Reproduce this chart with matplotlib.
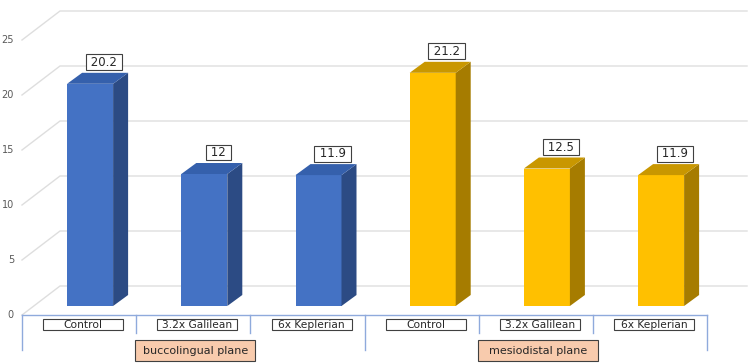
import matplotlib
matplotlib.use('Agg')
import matplotlib.pyplot as plt
from matplotlib.patches import Polygon, Rectangle

# --- Dados ---
categorias = ['Control', '3.2x Galilean', '6x Keplerian',
              'Control', '3.2x Galilean', '6x Keplerian']
valores = [20.2, 12, 11.9, 21.2, 12.5, 11.9]
grupos = ['buccolingual plane', 'mesiodistal plane']
ticks_y = [0, 5, 10, 15, 20, 25]

# --- Cores ---
COR_FRENTE = ['#4472C4'] * 3 + ['#FFC000'] * 3
COR_TOPO = ['#3560AC'] * 3 + ['#C99700'] * 3
COR_LADO = ['#2C4B84'] * 3 + ['#A67C00'] * 3
COR_GRADE = '#DEDEDE'
COR_EIXO = '#8FAADC'
COR_BORDA = '#404040'

# --- Escala em pixels (imagem 750x364) ---
SLOT = 114.2     # px por categoria
PXY = 11.0       # px por unidade de valor
X0, Y0 = 22, 315  # origem do eixo em px


def hx(p):
    return p / SLOT


def vy(p):
    return p / PXY


fig = plt.figure(figsize=(7.5, 3.64), dpi=100)
ax = fig.add_axes([0, 0, 1, 1])
ax.set_xlim(-X0 / SLOT, (750 - X0) / SLOT)
ax.set_ylim(-(364 - Y0) / PXY, Y0 / PXY)
ax.axis('off')

# grade com parede do fundo
pdx, pdy = hx(38), vy(29)
x_fim = hx(747 - X0)
for v in ticks_y:
    ax.plot([0, pdx, x_fim], [v, v + pdy, v + pdy], color=COR_GRADE, lw=1, zorder=1)
    ax.text(hx(14 - X0), v, str(v), ha='right', va='center', fontsize=7, color='#595959')

# barras 3D (a frente fica um pouco recuada em relação ao eixo)
largura = hx(46)
off_x, off_y = hx(11), vy(9)
dx, dy = hx(15), vy(11)
centros = [i + 0.5 + off_x for i in range(len(valores))]
ax.bar(centros, valores, width=largura, bottom=off_y, color=COR_FRENTE, zorder=3)
for c, v, ct, cl in zip(centros, valores, COR_TOPO, COR_LADO):
    xl, xr = c - largura / 2, c + largura / 2
    b, t = off_y, v + off_y
    ax.add_patch(Polygon([(xr, b), (xr + dx, b + dy), (xr + dx, t + dy), (xr, t)],
                         closed=True, fc=cl, ec='none', zorder=3))
    ax.add_patch(Polygon([(xl, t), (xl + dx, t + dy), (xr + dx, t + dy), (xr, t)],
                         closed=True, fc=ct, ec='none', zorder=3))
    ax.text(c + hx(14), t + dy + vy(4), f' {v:g} ', ha='center', va='bottom',
            fontsize=8.5, color='#262626', zorder=5,
            bbox=dict(boxstyle='square,pad=0.12', fc='white', ec=COR_BORDA, lw=0.8))

# eixo x com categorias e grupos
ax.plot([0, 6], [0, 0], color=COR_EIXO, lw=1, zorder=2)
for i in range(7):
    baixo = vy(-35) if i % 3 == 0 else vy(-18)
    ax.plot([i, i], [0, baixo], color=COR_EIXO, lw=1, zorder=2)

for i, nome in enumerate(categorias):
    cx = i + 0.5 + hx(4)
    ax.add_patch(Rectangle((cx - hx(40), vy(-15)), hx(80), vy(11),
                           fc='white', ec=COR_BORDA, lw=0.8, zorder=4))
    ax.text(cx, vy(-9.5), nome, ha='center', va='center', fontsize=7.7,
            color='#262626', zorder=5)

for g, nome in enumerate(grupos):
    cx = g * 3 + 1.5 + hx(2)
    ax.add_patch(Rectangle((cx - hx(60), vy(-46)), hx(120), vy(21),
                           fc='#F8CBAD', ec=COR_BORDA, lw=0.8, zorder=4))
    ax.text(cx, vy(-35.5), nome, ha='center', va='center', fontsize=8,
            color='#262626', zorder=5)

fig.savefig('out.png', dpi=100)
